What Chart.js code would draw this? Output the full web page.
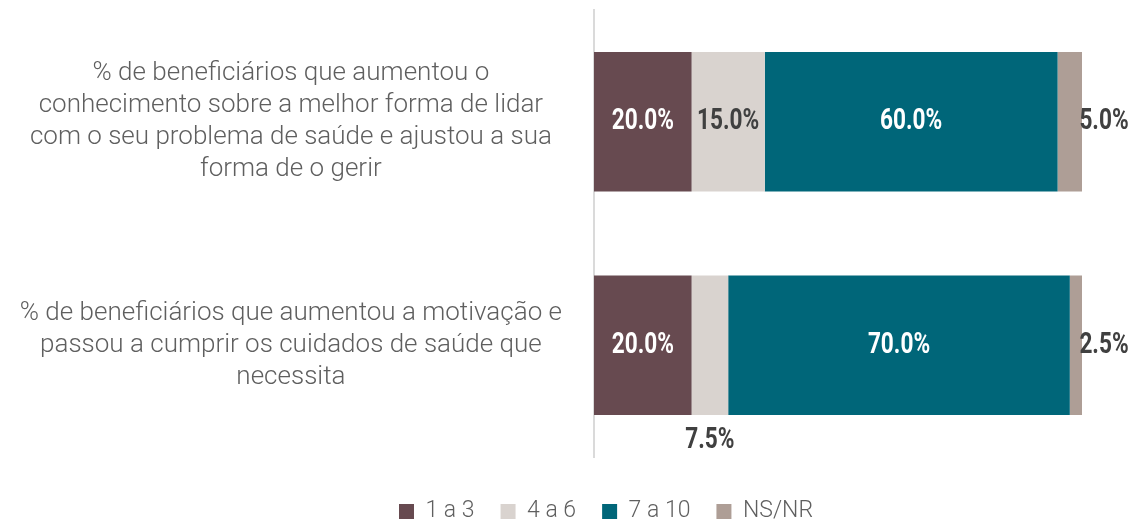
<!DOCTYPE html>
<html>
<head>
<meta charset="utf-8">
<script src="https://cdn.jsdelivr.net/npm/chart.js@4/dist/chart.umd.min.js"></script>
<style>
  html, body { margin: 0; padding: 0; background: #fff; }
  #wrap { width: 1144px; height: 524px; position: relative; }
</style>
</head>
<body>
<div id="wrap"><canvas id="chart"></canvas></div>
<script>
const categories = [
  ["% de beneficiários que aumentou o", "conhecimento sobre a melhor forma de lidar", "com o seu problema de saúde e ajustou a sua", "forma de o gerir"],
  ["% de beneficiários que aumentou a motivação e", "passou a cumprir os cuidados de saúde que", "necessita"]
];
const seriesNames = ["1 a 3", "4 a 6", "7 a 10", "NS/NR"];
const low = [20.0, 20.0];
const mid = [15.0, 7.5];
const high = [60.0, 70.0];
const nsnr = [5.0, 2.5];
const colors = ["#674a50", "#d9d3cf", "#006679", "#ae9e96"];
const labelColors = ["#ffffff", "#404040", "#ffffff", "#404040"];

/* ---- value labels (condensed bold, outside when the segment is narrow) ---- */
const valueLabels = {
  id: "valueLabels",
  afterDatasetsDraw(chart) {
    const ctx = chart.ctx;
    const last = chart.data.datasets.length - 1;
    chart.data.datasets.forEach((ds, di) => {
      const meta = chart.getDatasetMeta(di);
      meta.data.forEach((bar, i) => {
        const v = ds.data[i];
        const left = Math.min(bar.x, bar.base);
        const right = Math.max(bar.x, bar.base);
        const w = right - left;
        let cx = (left + right) / 2;
        let cy = bar.y;
        let color = labelColors[di];
        if (w < 60) {
          color = "#404040";
          if (di === last) {
            cx = right + 22;
          } else {
            cy = bar.y + bar.height / 2 + 26;
          }
        }
        ctx.save();
        ctx.font = "bold 29px Roboto";
        ctx.fillStyle = color;
        ctx.textAlign = "center";
        ctx.textBaseline = "middle";
        ctx.translate(cx, cy);
        ctx.scale(0.78, 1);
        ctx.fillText(v.toFixed(1) + "%", 0, 0);
        ctx.restore();
      });
    });
  }
};

/* ---- legend sits a bit right of the canvas centre in the original ---- */
const shiftLegend = {
  id: "shiftLegend",
  afterLayout(chart) {
    if (chart.legend) {
      chart.legend.left += 65;
      chart.legend.right += 65;
    }
  }
};

const allSeries = [low, mid, high, nsnr];

new Chart(document.getElementById("chart"), {
  type: "bar",
  data: {
    labels: categories,
    datasets: allSeries.map((d, i) => ({
      label: seriesNames[i],
      data: d,
      backgroundColor: colors[i],
      borderWidth: 0,
      categoryPercentage: 1,
      barPercentage: 0.625
    }))
  },
  options: {
    indexAxis: "y",
    responsive: true,
    maintainAspectRatio: false,
    animation: false,
    layout: { padding: { top: 10, right: 62, bottom: -9, left: 0 } },
    plugins: {
      legend: {
        position: "bottom",
        labels: {
          boxWidth: 15,
          boxHeight: 15,
          padding: 26,
          color: "#5f5f5f",
          font: { family: "Roboto", size: 23, weight: 300 }
        }
      },
      tooltip: { enabled: false }
    },
    scales: {
      x: {
        stacked: true,
        min: 0,
        max: 100,
        grid: { display: false },
        border: { display: false },
        ticks: { display: false },
        afterFit: (scale) => { scale.height = 17; }
      },
      y: {
        stacked: true,
        grid: { display: false },
        border: { display: true, color: "#dadada", width: 2 },
        ticks: {
          crossAlign: "center",
          padding: 24,
          color: "#5f5f5f",
          font: { family: "Roboto", size: 26, weight: 300, lineHeight: 1.23 }
        },
        afterFit: (scale) => {
          scale.width = 594;
          scale.paddingTop = 0;
          scale.paddingBottom = 0;
        }
      }
    }
  },
  plugins: [valueLabels, shiftLegend]
});
</script>
</body>
</html>
